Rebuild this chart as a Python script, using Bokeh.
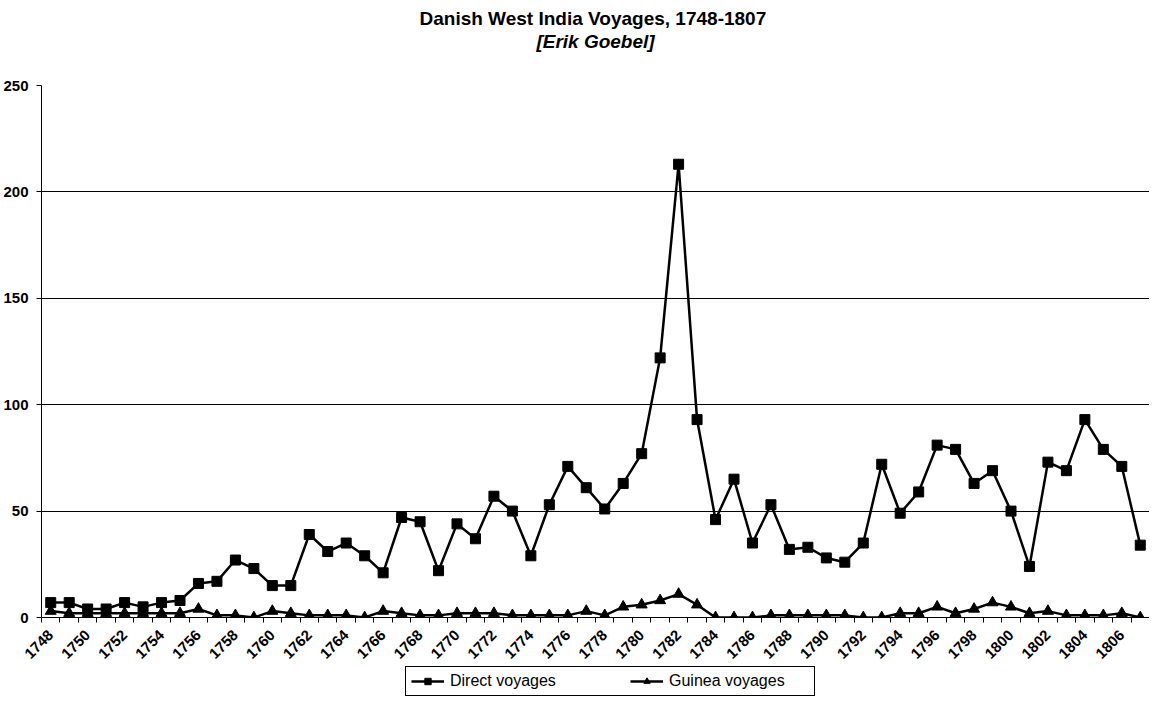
import math
from bokeh.plotting import figure
from bokeh.layouts import column
from bokeh.models import Range1d, FixedTicker, Legend, LegendItem, Title
from bokeh.embed import file_html
from bokeh.resources import INLINE

years = list(range(1748, 1808))
direct_voyages = [7, 7, 4, 4, 7, 5, 7, 8, 16, 17,
                  27, 23, 15, 15, 39, 31, 35, 29, 21, 47,
                  45, 22, 44, 37, 57, 50, 29, 53, 71, 61,
                  51, 63, 77, 122, 213, 93, 46, 65, 35, 53,
                  32, 33, 28, 26, 35, 72, 49, 59, 81, 79,
                  63, 69, 50, 24, 73, 69, 93, 79, 71, 34]
guinea_voyages = [3, 2, 2, 2, 2, 2, 2, 2, 4, 1,
                  1, 0, 3, 2, 1, 1, 1, 0, 3, 2,
                  1, 1, 2, 2, 2, 1, 1, 1, 1, 3,
                  1, 5, 6, 8, 11, 6, 0, 0, 0, 1,
                  1, 1, 1, 1, 0, 0, 2, 2, 5, 2,
                  4, 7, 5, 2, 3, 1, 1, 1, 2, 0]
tick_years = list(range(1748, 1807, 2))
y_ticks = [0, 50, 100, 150, 200, 250]
title_text = "Danish West India Voyages,  1748-1807"
subtitle_text = "[Erik Goebel]"
series_names = ["Direct voyages", "Guinea voyages"]

FONT = "Liberation Sans"
W = 1149
H_MAIN = 666
H_LEG = 30

p = figure(width=W, height=H_MAIN,
           output_backend="svg", toolbar_location=None,
           x_range=Range1d(years[0] - 0.5, years[-1] + 0.5),
           y_range=Range1d(0, 250),
           min_border_left=40, min_border_right=0, min_border_bottom=0,
           min_border_top=0, title=None)
p.outline_line_color = None
p.background_fill_color = "white"

# titles (spacer closest to plot, then subtitle, title, top spacer)
p.add_layout(Title(text=" ", text_font_size="29px", standoff=0), "above")
p.add_layout(Title(text=subtitle_text, align="center", offset=-26, standoff=0,
                   text_font=FONT, text_font_size="19px",
                   text_font_style="bold italic", text_color="black"), "above")
p.add_layout(Title(text=title_text, align="center", offset=-26, standoff=0,
                   text_font=FONT, text_font_size="19px",
                   text_font_style="bold", text_color="black"), "above")
p.add_layout(Title(text=" ", text_font_size="3px", standoff=0), "above")

# lines and markers
p.line(years, direct_voyages, line_color="black", line_width=2.5)
p.scatter(years, direct_voyages, marker="square", size=10,
          fill_color="black", line_color="black")
p.line(years, guinea_voyages, line_color="black", line_width=2.5)
p.scatter(years, guinea_voyages, marker="triangle", size=11,
          fill_color="black", line_color="black")

# x axis
boundaries = [y - 0.5 for y in years] + [years[-1] + 0.5]
p.xaxis.ticker = FixedTicker(ticks=tick_years, minor_ticks=boundaries)
p.xaxis.major_tick_line_color = None
p.xaxis.major_tick_out = 0
p.xaxis.major_tick_in = 0
p.xaxis.minor_tick_out = 5
p.xaxis.minor_tick_in = 0
p.xaxis.minor_tick_line_color = "black"
p.xaxis.axis_line_color = "black"
p.xaxis.major_label_orientation = math.pi / 4
p.xaxis.major_label_standoff = 10
p.xaxis.major_label_text_font = FONT
p.xaxis.major_label_text_font_size = "15px"
p.xaxis.major_label_text_font_style = "bold"
p.xaxis.major_label_text_color = "black"

# y axis
p.yaxis.ticker = FixedTicker(ticks=y_ticks)
p.yaxis.minor_tick_line_color = None
p.yaxis.major_tick_out = 5
p.yaxis.major_tick_in = 0
p.yaxis.major_tick_line_color = "black"
p.yaxis.axis_line_color = "black"
p.yaxis.major_label_standoff = 8
p.yaxis.major_label_text_font = FONT
p.yaxis.major_label_text_font_size = "15px"
p.yaxis.major_label_text_font_style = "bold"
p.yaxis.major_label_text_color = "black"

p.xgrid.visible = False
p.ygrid.grid_line_color = "black"
p.ygrid.grid_line_width = 1
p.ygrid.ticker = FixedTicker(ticks=y_ticks)

# legend strip (series drawn outside its visible range; only legend shows)
q = figure(width=W, height=H_LEG, output_backend="svg", toolbar_location=None,
           x_range=Range1d(0, 1), y_range=Range1d(0, 1),
           x_axis_type=None, y_axis_type=None,
           min_border_left=0, min_border_right=0, min_border_top=0,
           min_border_bottom=0, title=None)
q.outline_line_color = None
q.xgrid.visible = False
q.ygrid.visible = False
k1 = q.line(years, direct_voyages, line_color="black", line_width=2.5)
s1 = q.scatter(years, direct_voyages, marker="square", size=10,
               fill_color="black", line_color="black")
k2 = q.line(years, guinea_voyages, line_color="black", line_width=2.5)
s2 = q.scatter(years, guinea_voyages, marker="triangle", size=11,
               fill_color="black", line_color="black")

legend = Legend(items=[LegendItem(label=series_names[0], renderers=[k1, s1]),
                       LegendItem(label=series_names[1], renderers=[k2, s2])],
                location=(364, 0), orientation="horizontal",
                border_line_color="black", border_line_width=1,
                border_line_alpha=1,
                padding=5, spacing=40, label_standoff=6,
                glyph_width=33, glyph_height=16, label_width=140,
                label_text_font=FONT, label_text_font_size="16px",
                label_text_color="black", margin=0,
                background_fill_color="white", background_fill_alpha=1)
q.add_layout(legend, "center")

layout = column(p, q, spacing=0)
open("out.html", "w").write(file_html(layout, INLINE))
